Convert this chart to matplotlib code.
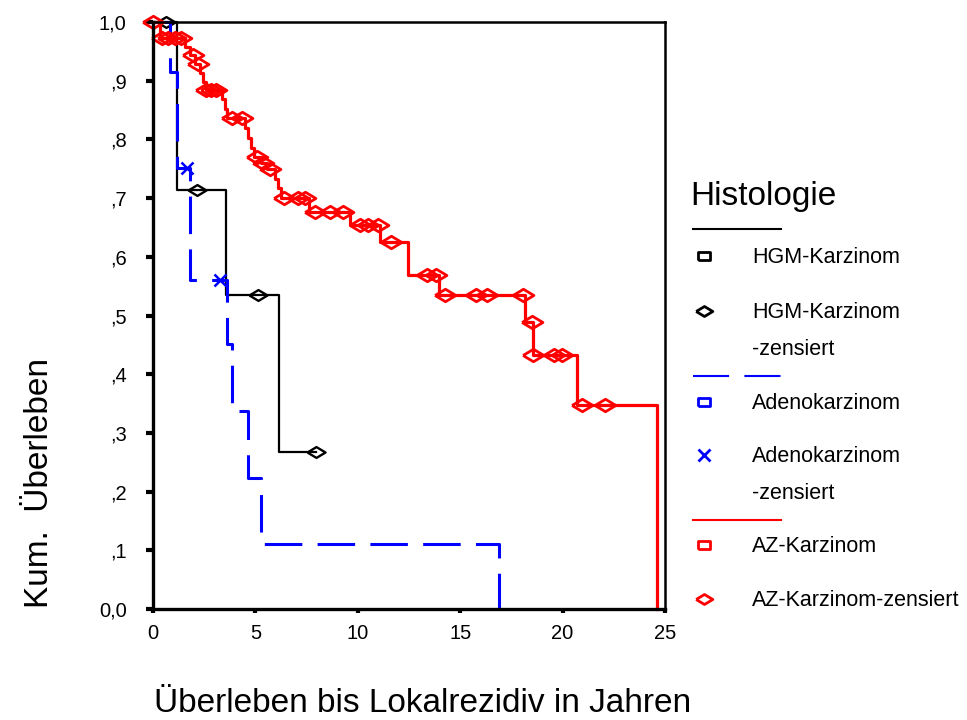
import matplotlib.pyplot as plt

plt.rcParams['font.family'] = ['Liberation Sans', 'DejaVu Sans']
plt.rcParams['lines.scale_dashes'] = False

# HGM-Karzinom
hgm_t = [0, 1.17, 3.56, 6.15, 7.96]
hgm_s = [1.0, 0.714, 0.535, 0.267, 0.267]
hgm_cens_t = [0.63, 2.15, 5.13, 7.96]
hgm_cens_s = [1.0, 0.714, 0.535, 0.267]

# Adenokarzinom
ade_t = [0, 0.83, 1.17, 1.8, 3.6, 3.86, 4.64, 5.27, 16.9]
ade_s = [1.0, 0.915, 0.751, 0.561, 0.452, 0.337, 0.223, 0.111, 0.0]
ade_cens_t = [1.66, 3.27]
ade_cens_s = [0.751, 0.561]

# AZ-Karzinom
az_t = [0, 0.35, 1.55, 1.8, 2.05, 2.3, 2.45, 2.6, 3.37, 3.5, 3.62, 4.5, 4.65,
        4.8, 4.95, 5.25, 5.55, 5.95, 6.1, 6.25, 7.6, 9.6, 11.1, 12.45, 13.95,
        18.15, 18.55, 20.7, 24.6]
az_s = [1.0, 0.973, 0.958, 0.943, 0.928, 0.913, 0.898, 0.884, 0.868, 0.852,
        0.836, 0.82, 0.803, 0.786, 0.77, 0.76, 0.75, 0.733, 0.717, 0.70,
        0.677, 0.654, 0.626, 0.569, 0.535, 0.489, 0.433, 0.348, 0.0]
az_cens_t = [0.0, 0.45, 0.75, 1.05, 1.35, 1.95, 2.2, 2.6, 2.85, 3.1, 3.85, 4.35,
             5.08, 5.37, 5.7, 6.4, 7.1, 7.4, 7.9, 8.65, 9.3, 10.1, 10.5, 11.0,
             11.6, 13.4, 13.8, 14.25, 15.75, 16.3, 18.05, 18.5, 18.55, 19.6,
             19.95, 20.95, 22.05]
az_cens_s = [1.0, 0.973, 0.973, 0.973, 0.973, 0.943, 0.928, 0.884, 0.884,
             0.884, 0.836, 0.836, 0.77, 0.76, 0.75, 0.70, 0.70, 0.70, 0.677,
             0.677, 0.677, 0.654, 0.654, 0.654, 0.626, 0.569, 0.569, 0.535,
             0.535, 0.535, 0.535, 0.489, 0.433, 0.433, 0.433, 0.348, 0.348]

yticks = [0, 0.1, 0.2, 0.3, 0.4, 0.5, 0.6, 0.7, 0.8, 0.9, 1.0]
ytick_labels = ['0,0', ',1', ',2', ',3', ',4', ',5', ',6', ',7', ',8', ',9', '1,0']
xticks = [0, 5, 10, 15, 20, 25]

diamond = [(-1, 0), (0, 0.6), (1, 0), (0, -0.6), (-1, 0)]
square = [(-1, -0.6), (1, -0.6), (1, 0.6), (-1, 0.6), (-1, -0.6)]
blue_dash = (0, (27, 11))

fig = plt.figure(figsize=(9.67, 7.2), dpi=100)
ax = fig.add_axes([153 / 967, 111 / 720, 512 / 967, 587 / 720])

ax.step(hgm_t, hgm_s, where='post', color='black', lw=1.6, clip_on=False)
ax.plot(hgm_cens_t, hgm_cens_s, ls='none', marker=diamond, ms=13, mfc='none',
        mec='black', mew=1.7, clip_on=False)

ax.step(ade_t, ade_s, where='post', color='#0000ff', lw=2.2, ls=blue_dash,
        clip_on=False)
ax.plot(ade_cens_t, ade_cens_s, ls='none', marker='x', ms=9, mec='#0000ff',
        mew=1.8, clip_on=False)

ax.step(az_t, az_s, where='post', color='#ff0000', lw=2.3, clip_on=False)
ax.plot(az_cens_t, az_cens_s, ls='none', marker=diamond, ms=15, mfc='none',
        mec='#ff0000', mew=2.0, clip_on=False)

ax.set_xlim(0, 25)
ax.set_ylim(0, 1.0)
ax.set_xticks(xticks)
ax.set_xticklabels([str(v) for v in xticks], fontsize=14.5)
ax.set_yticks(yticks)
ax.set_yticklabels(ytick_labels, fontsize=14.5)
ax.tick_params(axis='y', direction='out', length=5, width=3, pad=14)
ax.tick_params(axis='x', direction='out', length=3, width=3, pad=8)
for side in ['left', 'bottom']:
    ax.spines[side].set_linewidth(2.4)
for side in ['top', 'right']:
    ax.spines[side].set_linewidth(1.8)

fig.text(40 / 967, 1 - 483 / 720, 'Kum.  Überleben', rotation=90,
         ha='center', va='center', fontsize=24)
fig.text(423 / 967, 1 - 703 / 720, 'Überleben bis Lokalrezidiv in Jahren',
         ha='center', va='center', fontsize=24)

# legend drawn in pixel space
lax = fig.add_axes([0, 0, 1, 1])
lax.set_xlim(0, 967)
lax.set_ylim(720, 0)
lax.axis('off')
lax.text(690, 197, 'Histologie', fontsize=24, va='center', ha='left')

legend_rows = [
    ('line', 229, 'black', '-'),
    ('mark', 256, 'black', square, 'HGM-Karzinom'),
    ('mark', 311, 'black', diamond, 'HGM-Karzinom\n-zensiert'),
    ('line', 376, '#0000ff', (0, (26, 11))),
    ('mark', 402, '#0000ff', square, 'Adenokarzinom'),
    ('mark', 455, '#0000ff', 'x', 'Adenokarzinom\n-zensiert'),
    ('line', 520, '#ff0000', '-'),
    ('mark', 545, '#ff0000', square, 'AZ-Karzinom'),
    ('mark', 599, '#ff0000', diamond, 'AZ-Karzinom-zensiert'),
]
for row in legend_rows:
    if row[0] == 'line':
        lax.plot([693, 781], [row[1], row[1]], color=row[2], ls=row[3], lw=1.5)
    else:
        _, y, col, mk, label = row
        ms = 9 if mk is square else (8 if mk == 'x' else 12)
        lax.plot([704], [y], ls='none', marker=mk, ms=ms, mfc='none', mec=col,
                 mew=2.0)
        lax.text(752, y - 9, label, fontsize=15.5, va='top', ha='left',
                 linespacing=2.0)

fig.savefig('out.png', dpi=100)
